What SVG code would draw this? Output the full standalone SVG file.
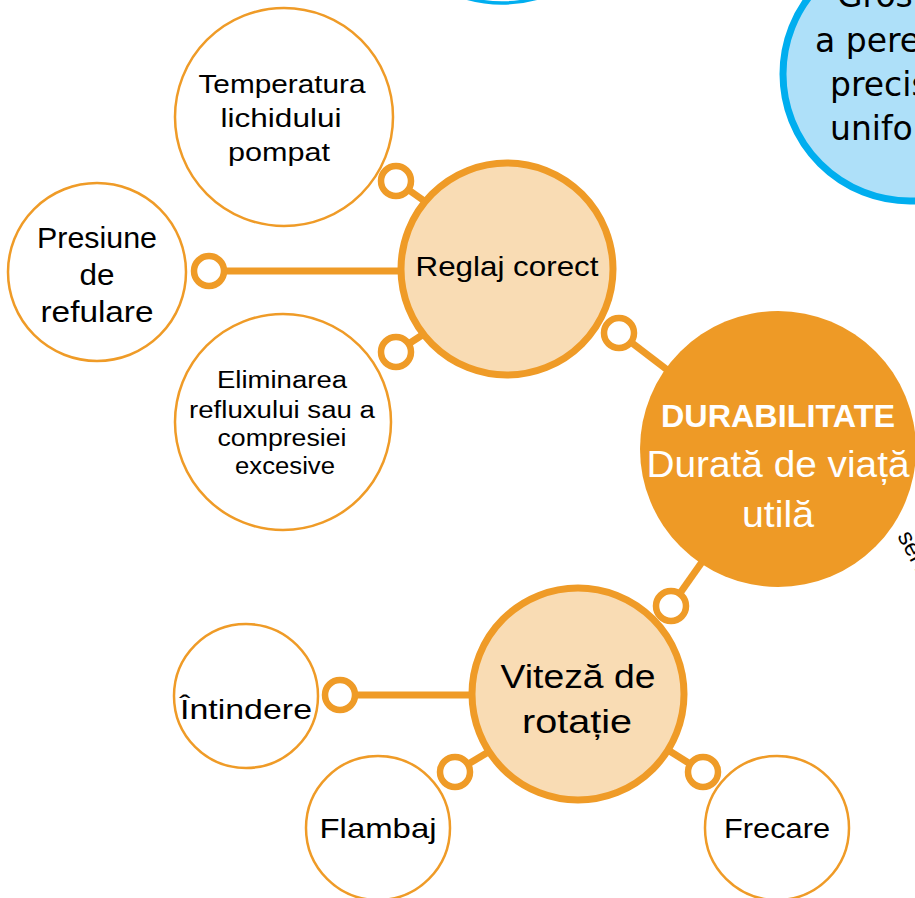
<svg xmlns="http://www.w3.org/2000/svg" width="915" height="898" viewBox="0 0 915 898">
<style>
.t{font-family:"Liberation Sans",Arial,sans-serif;fill:#000;text-anchor:middle}
.s{font-family:"DejaVu Sans","Liberation Sans",sans-serif;fill:#000;text-anchor:start}
.w{font-family:"Liberation Sans",Arial,sans-serif;fill:#fff;text-anchor:middle}
.leaf{fill:#fff;stroke:#ef9b27;stroke-width:2.5}
.hub{fill:#f9dcb4;stroke:#ef9b27;stroke-width:7}
.ln{stroke:#ef9b27;stroke-width:7;fill:none}
.ring{fill:#fff;stroke:#ef9b27;stroke-width:6.5}
</style>
<g id="blue-top">
<circle cx="502" cy="-127" r="130" fill="#fff" stroke="#00aeef" stroke-width="3.5"/>
</g>
<g id="blue-right">
<circle cx="910" cy="74" r="127" fill="#aee0f9" stroke="#00aeef" stroke-width="7"/>
<text class="s" font-size="33" x="837" y="7">Grosimea</text>
<text class="s" font-size="33" x="815" y="52">a peretelui</text>
<text class="s" font-size="33" x="830" y="96">precisă</text>
<text class="s" font-size="33" x="830" y="140">uniformă</text>
</g>
<g id="connectors">
<line class="ln" x1="396" y1="181" x2="430" y2="205"/>
<line class="ln" x1="209" y1="271" x2="400" y2="271"/>
<line class="ln" x1="396" y1="352" x2="430" y2="330"/>
<line class="ln" x1="619" y1="333" x2="670" y2="372"/>
<line class="ln" x1="671" y1="606" x2="702" y2="562"/>
<line class="ln" x1="340" y1="695" x2="470" y2="695"/>
<line class="ln" x1="455" y1="772" x2="500" y2="745"/>
<line class="ln" x1="703" y1="772" x2="660" y2="745"/>
</g>
<g id="node-durabilitate">
<circle cx="778" cy="449" r="138" fill="#ee9a26"/>
<text class="w" font-size="31" font-weight="bold" x="778" y="427" textLength="234" lengthAdjust="spacingAndGlyphs">DURABILITATE</text>
<text class="w" font-size="36" x="778" y="477" textLength="263" lengthAdjust="spacingAndGlyphs">Durată de viață</text>
<text class="w" font-size="36" x="778" y="527" textLength="72" lengthAdjust="spacingAndGlyphs">utilă</text>
</g>
<text class="t" font-size="24" transform="translate(897,536) rotate(62)" style="text-anchor:start">serviciu</text>
<g id="node-reglaj">
<circle class="hub" cx="507" cy="269" r="106"/>
<text class="t" font-size="28" x="507" y="276" textLength="183" lengthAdjust="spacingAndGlyphs">Reglaj corect</text>
</g>
<g id="node-viteza">
<circle class="hub" cx="578" cy="694" r="106"/>
<text class="t" font-size="34" x="578" y="688" textLength="155" lengthAdjust="spacingAndGlyphs">Viteză de</text>
<text class="t" font-size="34" x="577" y="733" textLength="110" lengthAdjust="spacingAndGlyphs">rotație</text>
</g>
<g id="node-temperatura">
<circle class="leaf" cx="284" cy="117" r="109"/>
<text class="t" font-size="26" x="282" y="93" textLength="167" lengthAdjust="spacingAndGlyphs">Temperatura</text>
<text class="t" font-size="26" x="281" y="127" textLength="121" lengthAdjust="spacingAndGlyphs">lichidului</text>
<text class="t" font-size="26" x="279" y="161" textLength="102" lengthAdjust="spacingAndGlyphs">pompat</text>
</g>
<g id="node-presiune">
<circle class="leaf" cx="97" cy="272" r="89"/>
<text class="t" font-size="29" x="97" y="248" textLength="120" lengthAdjust="spacingAndGlyphs">Presiune</text>
<text class="t" font-size="29" x="97" y="285" textLength="35" lengthAdjust="spacingAndGlyphs">de</text>
<text class="t" font-size="29" x="97" y="322" textLength="113" lengthAdjust="spacingAndGlyphs">refulare</text>
</g>
<g id="node-eliminarea">
<circle class="leaf" cx="283" cy="422" r="108"/>
<text class="t" font-size="23" x="282" y="388" textLength="130" lengthAdjust="spacingAndGlyphs">Eliminarea</text>
<text class="t" font-size="23" x="282" y="418" textLength="186" lengthAdjust="spacingAndGlyphs">refluxului sau a</text>
<text class="t" font-size="23" x="282" y="446" textLength="129" lengthAdjust="spacingAndGlyphs">compresiei</text>
<text class="t" font-size="23" x="285" y="474" textLength="100" lengthAdjust="spacingAndGlyphs">excesive</text>
</g>
<g id="node-intindere">
<circle class="leaf" cx="246" cy="696" r="72"/>
<text class="t" font-size="28" x="246" y="719" textLength="132" lengthAdjust="spacingAndGlyphs">Întindere</text>
</g>
<g id="node-flambaj">
<circle class="leaf" cx="378" cy="828" r="72"/>
<text class="t" font-size="28" x="378" y="838" textLength="117" lengthAdjust="spacingAndGlyphs">Flambaj</text>
</g>
<g id="node-frecare">
<circle class="leaf" cx="777" cy="828" r="72"/>
<text class="t" font-size="28" x="777" y="838" textLength="106" lengthAdjust="spacingAndGlyphs">Frecare</text>
</g>
<g id="rings">
<circle class="ring" cx="396" cy="181" r="15"/>
<circle class="ring" cx="209" cy="271" r="15"/>
<circle class="ring" cx="396" cy="352" r="15"/>
<circle class="ring" cx="619" cy="333" r="15"/>
<circle class="ring" cx="671" cy="606" r="15"/>
<circle class="ring" cx="340" cy="695" r="15"/>
<circle class="ring" cx="455" cy="772" r="15"/>
<circle class="ring" cx="703" cy="772" r="15"/>
</g>
</svg>
